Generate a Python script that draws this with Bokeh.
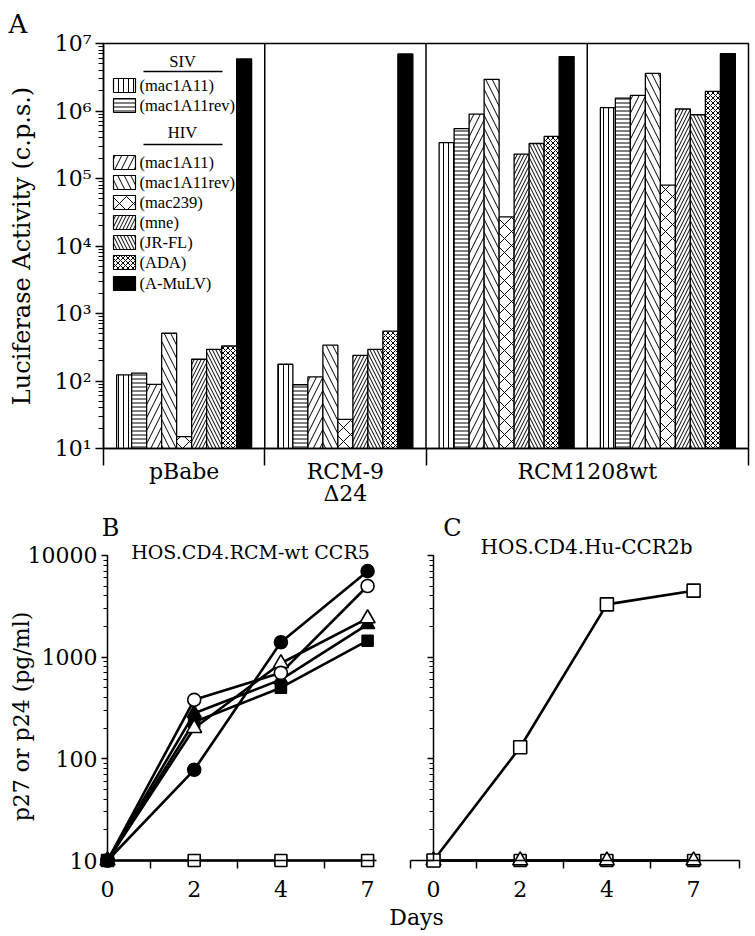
import math
from bokeh.plotting import figure
from bokeh.models import Range1d, FixedTicker, Title
from bokeh.layouts import column, row
from bokeh.embed import file_html
from bokeh.resources import INLINE
from bokeh.core.properties import value

FONT = "DejaVu Serif"
LEG_FONT = "Liberation Serif"

# ---------------- Panel A data ----------------
group_names = ["pBabe", "RCM-9\nΔ24", "RCM1208wt"]
group_name_pos = [0.5, 1.5, 3.0]
group_bounds = [0, 1, 2, 4]
group_dividers = [1, 2, 3]
legend_labels = ["(mac1A11)", "(mac1A11rev)", "(mac1A11)", "(mac1A11rev)",
                 "(mac239)", "(mne)", "(JR-FL)", "(ADA)", "(A-MuLV)"]
legend_headers = ["SIV", "HIV"]
hatch_patterns = ["|", "-", "/", "\\", "x", "/", "\\", "x", None]
hatch_spacing = [5, 4, 13, 13, 14, 7, 7, 5, 8]
bar_fill = ["white"] * 8 + ["black"]
lum_pbabe = [123, 131, 89, 510, 15, 210, 295, 330, 5.9e6]
lum_rcm9 = [177, 88, 115, 340, 27, 240, 295, 550, 7.0e6]
lum_rcm1208_1 = [3.4e5, 5.5e5, 9.0e5, 2.95e6, 2.7e4, 2.3e5, 3.3e5, 4.2e5, 6.4e6]
lum_rcm1208_2 = [1.12e6, 1.55e6, 1.7e6, 3.6e6, 8.0e4, 1.07e6, 8.8e5, 1.95e6, 7.1e6]
decade_exps = [1, 2, 3, 4, 5, 6, 7]
superscripts = ["¹", "²", "³", "⁴", "⁵", "⁶", "⁷"]

# ---------------- Panel B / C data ----------------
day_labels = ["0", "2", "4", "7"]
day_pos = [0, 1, 2, 3]
b_filled_circle = [10, 78, 1400, 7000]
b_open_circle = [10, 380, 700, 5000]
b_open_triangle = [10, 200, 870, 2400]
b_filled_triangle = [10, 280, 600, 2100]
b_filled_square = [10, 230, 500, 1450]
b_open_square = [10, 10, 10, 10]
c_open_square = [10, 130, 3300, 4500]
c_flat_square = [10, 10, 10, 10]
c_open_triangle = [10, 10, 10, 10]
bc_decades = [10, 100, 1000, 10000]

# ================= Panel A =================
A_TOP, A_DEC, A_LEFT, A_GW = 43.0, 67.5, 103.0, 161.25


def a_y(py):
    return 10 ** (7 - (py - A_TOP) / A_DEC)


def a_x(px):
    return (px - A_LEFT) / A_GW


pA = figure(width=755, height=510, x_range=Range1d(0, 4), y_range=Range1d(10, 1e7),
            y_axis_type="log", output_backend="svg", toolbar_location=None,
            min_border_left=103, min_border_right=7, min_border_top=43, min_border_bottom=62)
pA.grid.visible = False
pA.outline_line_color = "black"
pA.outline_line_width = 1.5
pA.add_layout(Title(text="A", align="left", offset=-95, standoff=10,
                    text_font=FONT, text_font_size="26px", text_font_style="normal",
                    text_color="black"), "above")

ya = pA.yaxis[0]
ya.axis_label = "Luciferase Activity (c.p.s.)"
ya.axis_label_text_font = FONT
ya.axis_label_text_font_style = "normal"
ya.axis_label_text_font_size = "24px"
ya.axis_label_text_color = "black"
ya.axis_label_standoff = 16
ya.major_label_overrides = {10 ** e: "10" + s for e, s in zip(decade_exps, superscripts)}
ya.major_label_text_font = FONT
ya.major_label_text_font_size = "22px"
ya.major_label_text_color = "black"
ya.major_label_standoff = 4
ya.major_tick_out = 8
ya.major_tick_in = 0
ya.minor_tick_out = 5
ya.minor_tick_in = 0
ya.axis_line_width = 1.5
ya.major_tick_line_width = 1.5

xa = pA.xaxis[0]
xa.ticker = FixedTicker(ticks=group_name_pos, minor_ticks=group_bounds)
xa.major_label_overrides = {p: n for p, n in zip(group_name_pos, group_names)}
xa.major_label_text_font = FONT
xa.major_label_text_font_size = "22px"
xa.major_label_text_color = "black"
xa.major_label_text_line_height = 0.9
xa.major_label_standoff = -7
xa.major_tick_out = 0
xa.major_tick_in = 0
xa.minor_tick_out = 17
xa.minor_tick_in = 0
xa.minor_tick_line_width = 1.5
xa.axis_line_width = 1.5

pA.segment(x0=group_dividers, y0=[10] * 3, x1=group_dividers, y1=[1e7] * 3,
           line_color="black", line_width=1.5)

all_groups = [lum_pbabe, lum_rcm9, lum_rcm1208_1, lum_rcm1208_2]
BW = 15.0 / A_GW
for i in range(9):
    xs = [g + 0.5 + (i - 4) * BW for g in range(4)]
    tops = [grp[i] for grp in all_groups]
    pA.vbar(x=xs, width=BW, bottom=10, top=tops, fill_color=bar_fill[i],
            line_color="black", line_width=1.3,
            hatch_pattern=hatch_patterns[i], hatch_scale=hatch_spacing[i],
            hatch_color="black", hatch_weight=1.0)

# legend (drawn inside the first group)
leg_rows = [85, 105, 162, 182, 202, 222, 242, 262, 283]
for i, py in enumerate(leg_rows):
    pA.quad(left=a_x(113), right=a_x(135), bottom=a_y(py + 7), top=a_y(py - 7),
            fill_color=bar_fill[i], line_color="black", line_width=1.2,
            hatch_pattern=hatch_patterns[i], hatch_scale=hatch_spacing[i],
            hatch_color="black", hatch_weight=1.0)
pA.text(x=[a_x(139)] * 9, y=[a_y(py) for py in leg_rows], text=legend_labels,
        text_font=value(LEG_FONT), text_font_size="16.5px", text_baseline="middle",
        text_align="left", text_color="black")
hdr_rows = [61, 132]
pA.text(x=[a_x(182)] * 2, y=[a_y(py) for py in hdr_rows], text=legend_headers,
        text_font=value(LEG_FONT), text_font_size="16.5px", text_baseline="middle",
        text_align="center", text_color="black")
ul_rows = [71, 144]
pA.segment(x0=[a_x(143)] * 2, x1=[a_x(222)] * 2, y0=[a_y(py) for py in ul_rows],
           y1=[a_y(py) for py in ul_rows], line_color="black", line_width=1.5)

# ================= Panels B and C =================
U, D = 86.7, 101.7
SPLIT = 378
TOP_BC, BOT_BC = 510, 935


def bc_y(py):
    return 10 ** (1 + (860 - py) / D)


def b_x(px):
    return (px - 107) / U


def c_x(px):
    return (px - 433) / U


def style_bc(p):
    p.grid.visible = False
    p.outline_line_color = None
    yax = p.yaxis[0]
    yax.fixed_location = 0
    yax.bounds = (10, 10000)
    yax.major_tick_out = 6
    yax.major_tick_in = 0
    yax.minor_tick_out = 4
    yax.minor_tick_in = 0
    yax.axis_line_width = 1.5
    yax.major_tick_line_width = 1.5
    yax.major_label_text_font = FONT
    yax.major_label_text_font_size = "22px"
    yax.major_label_text_color = "black"
    yax.major_label_standoff = 4
    xax = p.xaxis[0]
    xax.fixed_location = 10
    xax.major_tick_out = 0
    xax.major_tick_in = 0
    xax.minor_tick_out = 8
    xax.minor_tick_in = 0
    xax.minor_tick_line_width = 1.5
    xax.axis_line_width = 1.5
    xax.major_label_overrides = {p_: l for p_, l in zip(day_pos, day_labels)}
    xax.major_label_text_font = FONT
    xax.major_label_text_font_size = "22px"
    xax.major_label_text_color = "black"
    xax.major_label_standoff = 12


pB = figure(width=SPLIT, height=BOT_BC - TOP_BC, x_range=Range1d(b_x(0), b_x(SPLIT)),
            y_range=Range1d(bc_y(BOT_BC), bc_y(TOP_BC)), y_axis_type="log",
            output_backend="svg", toolbar_location=None, min_border=0)
style_bc(pB)
pB.yaxis[0].major_label_overrides = {d: str(d) for d in bc_decades}
pB.xaxis[0].bounds = (0, 3.1)
pB.xaxis[0].ticker = FixedTicker(ticks=day_pos, minor_ticks=[0.5, 1.5, 2.5])

b_series = [
    (b_open_square, "square", "white", 12),
    (b_filled_square, "square", "black", 11),
    (b_filled_triangle, "triangle", "black", 14),
    (b_open_triangle, "triangle", "white", 15),
    (b_open_circle, "circle", "white", 13),
    (b_filled_circle, "circle", "black", 13),
]
for vals, mk, fc, sz in b_series:
    pB.line(day_pos, vals, line_color="black", line_width=2.6)
for vals, mk, fc, sz in b_series:
    pB.scatter(day_pos, vals, marker=mk, size=sz, fill_color=fc,
               line_color="black", line_width=1.6)

pB.text(x=[b_x(110)], y=[bc_y(527)], text=["B"], text_font=value(FONT),
        text_font_size="24px", text_align="center", text_baseline="middle")
pB.text(x=[b_x(250)], y=[bc_y(551)], text=["HOS.CD4.RCM-wt CCR5"], text_font=value(FONT),
        text_font_size="19px", text_align="center", text_baseline="middle")
pB.text(x=[b_x(21)], y=[bc_y(716)], text=["p27 or p24 (pg/ml)"], angle=math.pi / 2,
        text_font=value(FONT), text_font_size="22px", text_align="center",
        text_baseline="middle")

pC = figure(width=755 - SPLIT, height=BOT_BC - TOP_BC, x_range=Range1d(c_x(SPLIT), c_x(755)),
            y_range=Range1d(bc_y(BOT_BC), bc_y(TOP_BC)), y_axis_type="log",
            output_backend="svg", toolbar_location=None, min_border=0)
style_bc(pC)
pC.yaxis[0].major_label_overrides = {d: "" for d in bc_decades}
pC.xaxis[0].bounds = (-0.265, 3.53)
pC.xaxis[0].ticker = FixedTicker(ticks=day_pos, minor_ticks=[-0.26, 0.5, 1.5, 2.5, 3.525])

c_series = [
    (c_flat_square, "square", "white", 12),
    (c_open_triangle, "triangle", "white", 15),
    (c_open_square, "square", "white", 13),
]
for vals, mk, fc, sz in c_series:
    pC.line(day_pos, vals, line_color="black", line_width=2.6)
for vals, mk, fc, sz in c_series:
    pC.scatter(day_pos, vals, marker=mk, size=sz, fill_color=fc,
               line_color="black", line_width=1.6)

pC.text(x=[c_x(452)], y=[bc_y(527)], text=["C"], text_font=value(FONT),
        text_font_size="24px", text_align="center", text_baseline="middle")
pC.text(x=[c_x(586)], y=[bc_y(546)], text=["HOS.CD4.Hu-CCR2b"], text_font=value(FONT),
        text_font_size="20px", text_align="center", text_baseline="middle")
pC.text(x=[c_x(416)], y=[bc_y(917)], text=["Days"], text_font=value(FONT),
        text_font_size="22px", text_align="center", text_baseline="middle")

layout = column(pA, row(pB, pC))
open("out.html", "w").write(file_html(layout, INLINE))
